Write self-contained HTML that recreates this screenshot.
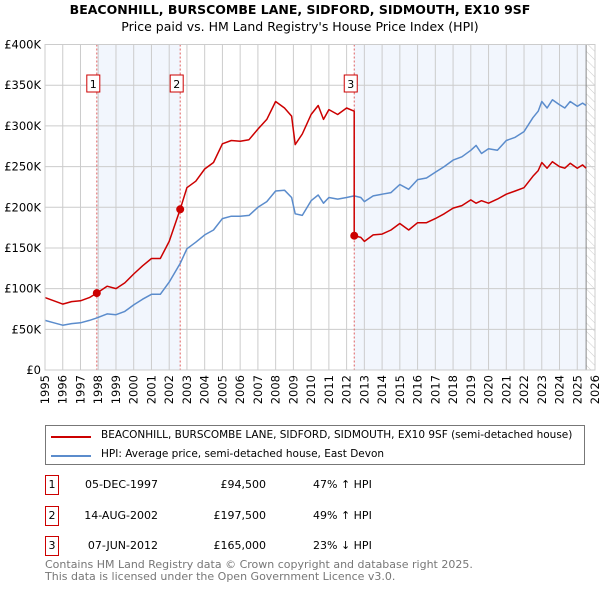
<!DOCTYPE html>
<html><head><meta charset="utf-8">
<style>
body{margin:0;background:#fff;font-family:"DejaVu Sans","Liberation Sans",sans-serif;}
#wrap{position:relative;width:600px;height:590px;overflow:hidden;}
.t{position:absolute;font-size:12px;color:#000;white-space:nowrap;}
</style></head>
<body>
<div id="wrap">
<div class="t" style="left:0;width:600px;text-align:center;top:2px;font-size:12.5px;font-weight:bold;">BEACONHILL, BURSCOMBE LANE, SIDFORD, SIDMOUTH, EX10 9SF</div>
<div class="t" style="left:0;width:600px;text-align:center;top:19px;font-size:12.5px;">Price paid vs. HM Land Registry's House Price Index (HPI)</div>
<svg id="chart" width="600" height="420" style="position:absolute;left:0;top:0"></svg>

<div style="position:absolute;left:45px;top:425px;width:540px;height:40px;border:1px solid #777;box-sizing:border-box;">
  <div><div style="position:absolute;left:5px;top:10px;width:40px;height:2px;background:#cc0000"></div><div class="t" style="left:55px;top:3px;font-size:10.5px;">BEACONHILL, BURSCOMBE LANE, SIDFORD, SIDMOUTH, EX10 9SF (semi-detached house)</div></div>
  <div><div style="position:absolute;left:5px;top:29px;width:40px;height:2px;background:#5b8ccc"></div><div class="t" style="left:55px;top:22px;font-size:10.5px;">HPI: Average price, semi-detached house, East Devon</div></div>
</div>

<div>
 <div>
  <div class="t" style="left:45px;top:475px;width:12px;height:18px;border:1px solid #cc0000;text-align:center;line-height:18px;font-size:11px;">1</div>
  <div class="t" style="left:60px;width:98px;text-align:right;top:478px;font-size:11px;">05-DEC-1997</div>
  <div class="t" style="left:166px;width:100px;text-align:right;top:478px;font-size:11px;">£94,500</div>
  <div class="t" style="left:313px;top:478px;font-size:11px;">47% ↑ HPI</div>
 </div>
 <div>
  <div class="t" style="left:45px;top:506px;width:12px;height:18px;border:1px solid #cc0000;text-align:center;line-height:18px;font-size:11px;">2</div>
  <div class="t" style="left:60px;width:98px;text-align:right;top:509px;font-size:11px;">14-AUG-2002</div>
  <div class="t" style="left:166px;width:100px;text-align:right;top:509px;font-size:11px;">£197,500</div>
  <div class="t" style="left:313px;top:509px;font-size:11px;">49% ↑ HPI</div>
 </div>
 <div>
  <div class="t" style="left:45px;top:536px;width:12px;height:18px;border:1px solid #cc0000;text-align:center;line-height:18px;font-size:11px;">3</div>
  <div class="t" style="left:60px;width:98px;text-align:right;top:539px;font-size:11px;">07-JUN-2012</div>
  <div class="t" style="left:166px;width:100px;text-align:right;top:539px;font-size:11px;">£165,000</div>
  <div class="t" style="left:313px;top:539px;font-size:11px;">23% ↓ HPI</div>
 </div>
</div>
<div class="t" style="left:45px;top:559px;font-size:11px;color:#777;line-height:11.5px;">Contains HM Land Registry data © Crown copyright and database right 2025.<br>This data is licensed under the Open Government Licence v3.0.</div>
</div>

<script>
const hpiYears=[1995.0,1995.5,1996,1996.5,1997,1997.5,1997.92,1998.5,1999,1999.5,2000,2000.5,2001,2001.5,2002,2002.62,2003,2003.5,2004,2004.5,2005,2005.5,2006,2006.5,2007,2007.5,2008,2008.5,2008.9,2009.1,2009.5,2010,2010.4,2010.7,2011,2011.5,2012,2012.43,2012.8,2013,2013.5,2014,2014.5,2015,2015.5,2016,2016.5,2017,2017.5,2018,2018.5,2019,2019.3,2019.6,2020,2020.5,2021,2021.5,2022,2022.5,2022.8,2023,2023.3,2023.6,2024,2024.3,2024.6,2025,2025.3,2025.5];
const hpiValues=[61,58,55,57,58,61,64,69,68,72,80,87,93,93,108,131,149,157,166,172,186,189,189,190,200,207,220,221,212,192,190,208,215,205,212,210,212,214,212,207,214,216,218,228,222,234,236,243,250,258,262,270,276,266,272,270,282,286,293,310,318,330,322,332,326,322,330,324,328,325];
const redYears=[1995.0,1995.5,1996,1996.5,1997,1997.5,1997.92,1998.5,1999,1999.5,2000,2000.5,2001,2001.5,2002,2002.62,2003,2003.5,2004,2004.5,2005,2005.5,2006,2006.5,2007,2007.5,2008,2008.5,2008.9,2009.1,2009.5,2010,2010.4,2010.7,2011,2011.5,2012,2012.43,2012.43,2012.8,2013,2013.5,2014,2014.5,2015,2015.5,2016,2016.5,2017,2017.5,2018,2018.5,2019,2019.3,2019.6,2020,2020.5,2021,2021.5,2022,2022.5,2022.8,2023,2023.3,2023.6,2024,2024.3,2024.6,2025,2025.3,2025.5];
const redValues=[89,85,81,84,85,89,94.5,103,100,107,118,128,137,137,158,197.5,224,232,247,255,278,282,281,283,296,308,330,322,312,277,290,314,325,308,320,314,322,318,165,163,158,166,167,172,180,172,181,181,186,192,199,202,209,205,208,205,210,216,220,224,238,245,255,248,256,250,248,254,248,252,248];
const saleYears=[1997.92,2002.62,2012.43];
const saleValues=[94.5,197.5,165];
const saleLabels=["1","2","3"];
const yTicks=[0,50,100,150,200,250,300,350,400];
const yTickLabels=["£0","£50K","£100K","£150K","£200K","£250K","£300K","£350K","£400K"];
const xTicks=[1995,1996,1997,1998,1999,2000,2001,2002,2003,2004,2005,2006,2007,2008,2009,2010,2011,2012,2013,2014,2015,2016,2017,2018,2019,2020,2021,2022,2023,2024,2025,2026];
const dataEnd=2025.5;

const X0=45,X1=595,Y0=370,Y1=44.5;
const x=v=>X0+(v-1995)/(2026-1995)*(X1-X0);
const y=v=>Y0-v/400*(Y0-Y1);
const svg=document.getElementById('chart');
const NS='http://www.w3.org/2000/svg';
function mk(tag,attrs){const e=document.createElementNS(NS,tag);for(const k in attrs)e.setAttribute(k,attrs[k]);svg.appendChild(e);return e;}

let s1=mk('rect',{x:x(saleYears[0]),y:Y1,width:x(saleYears[1])-x(saleYears[0]),height:Y0-Y1,fill:'#eef3fc',opacity:0.75});


let s2=mk('rect',{x:x(saleYears[2]),y:Y1,width:x(dataEnd)-x(saleYears[2]),height:Y0-Y1,fill:'#eef3fc',opacity:0.75});


const defs=mk('defs',{});
defs.innerHTML='<pattern id="h" width="6" height="6" patternUnits="userSpaceOnUse" patternTransform="rotate(-45)"><line x1="0" y1="0" x2="0" y2="6" stroke="#ccc" stroke-width="1"/></pattern>';
let hz=mk('rect',{x:x(dataEnd),y:Y1,width:X1-x(dataEnd),height:Y0-Y1,fill:'url(#h)'});



yTicks.forEach((t,i)=>{
  let g=mk('line',{x1:X0,x2:X1,y1:y(t),y2:y(t),stroke:'#ccc','stroke-width':1});
  
  
  let l=mk('text',{x:X0-4,y:y(t)+4,'text-anchor':'end','font-size':11.5,fill:'#000','font-family':'DejaVu Sans, Liberation Sans, sans-serif'});
  l.textContent=yTickLabels[i];
  
  
});
xTicks.forEach(t=>{
  let g=mk('line',{x1:x(t),x2:x(t),y1:Y1,y2:Y0,stroke:'#ccc','stroke-width':1});
  
  
  let l=mk('text',{x:0,y:0,'text-anchor':'end','font-size':11.5,fill:'#000','font-family':'DejaVu Sans, Liberation Sans, sans-serif',transform:`translate(${x(t)+4},${Y0+5}) rotate(-90)`});
  l.textContent=t;
  
  
});
let dl=mk('line',{x1:x(dataEnd),x2:x(dataEnd),y1:Y1,y2:Y0,stroke:'#888','stroke-width':1});



saleYears.forEach((yr,i)=>{
  let v=mk('line',{x1:x(yr),x2:x(yr),y1:Y1,y2:Y0,stroke:'#e06060','stroke-width':1,'stroke-dasharray':'2,2'});
  
  
});

function path(xs,vs,color,name){
  const d=xs.map((v,i)=>(i?'L':'M')+x(v).toFixed(1)+','+y(vs[i]).toFixed(1)).join('');
  let p=mk('path',{d:d,fill:'none',stroke:color,'stroke-width':1.5,'stroke-linejoin':'round'});
  
  
}
path(hpiYears,hpiValues,'#5b8ccc','hpi-line');
path(redYears,redValues,'#cc0000','property-price-line');

saleYears.forEach((yr,i)=>{
  let c=mk('circle',{cx:x(yr),cy:y(saleValues[i]),r:4,fill:'#cc0000'});
  
  
  let b=mk('rect',{x:x(yr)-10,y:75,width:13,height:17,fill:'#fff',stroke:'#cc0000','stroke-width':1});
  
  
  let t=mk('text',{x:x(yr)-3.5,y:88,'text-anchor':'middle','font-size':11,fill:'#000','font-family':'DejaVu Sans, Liberation Sans, sans-serif'});
  t.textContent=saleLabels[i];
  
  
});
let bx=mk('rect',{x:X0,y:Y1,width:X1-X0,height:Y0-Y1,fill:'none',stroke:'#ccc'});


</script>
</body></html>
